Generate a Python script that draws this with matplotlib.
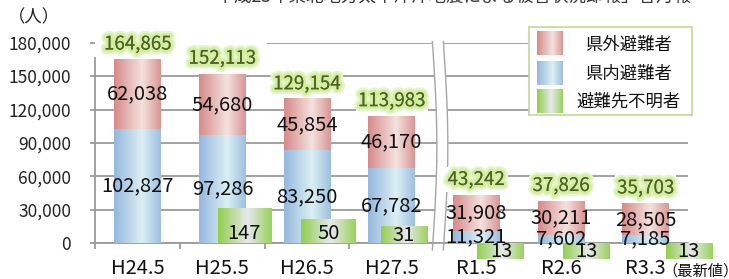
import numpy as np
import matplotlib
matplotlib.use("Agg")
import matplotlib.pyplot as plt
from matplotlib.colors import LinearSegmentedColormap
import matplotlib.patheffects as pe

plt.rcParams['font.family'] = ['Noto Sans CJK JP', 'DejaVu Sans']

# ---------------- data ----------------
categories = ["H24.5", "H25.5", "H26.5", "H27.5", "R1.5", "R2.6", "R3.3"]
latest_suffix = "（最新値）"
outside_pref = [62038, 54680, 45854, 46170, 31908, 30211, 28505]   # 県外避難者
inside_pref = [102827, 97286, 83250, 67782, 11321, 7602, 7185]     # 県内避難者
unknown = [None, 147, 50, 31, 13, 13, 13]                          # 避難先不明者
# height at which the (label-holder) green bars are drawn in the picture
unknown_drawn = [0, 30700, 20800, 14550, -14200, -14200, -14200]
totals = [164865, 152113, 129154, 113983, 43242, 37826, 35703]
series_names = ["県外避難者", "県内避難者", "避難先不明者"]
yticks = [0, 30000, 60000, 90000, 120000, 150000, 180000]
title = "「平成23年東北地方太平洋沖地震による被害状況即報」各月報"
unit = "（人）"

# ---------------- layout / style ----------------
W, H = 729, 279
bar_w = 0.555
green_offset = [0, 0.26, 0.25, 0.145, 0.29, 0.30, 0.51]
green_width = [0, 0.635, 0.64, 0.545, 0.555, 0.555, 0.55]
grid_col = "#9a9a9a"

cm_red = LinearSegmentedColormap.from_list("r", [(0, "#d68a89"), (0.6, "#f4e2df"), (1, "#d99594")])
cm_blue = LinearSegmentedColormap.from_list("b", [(0, "#95b7de"), (0.6, "#dcf0f4"), (1, "#9dbfe0")])
cm_green = LinearSegmentedColormap.from_list("g", [(0, "#90cf4c"), (0.55, "#e8e8ee"), (1, "#98d35a")])
grad = np.linspace(0, 1, 256).reshape(1, -1)

fig = plt.figure(figsize=(W / 100, H / 100), dpi=100)
ax = fig.add_axes([95.4 / W, 1 - 243.2 / H, (688 - 95.4) / W, (243.2 - 42.7) / H])

x = np.arange(len(categories))


def paint(container, cmap, z):
    for r in container:
        r.set_facecolor("none")
        r.set_edgecolor("none")
        x0, y0, w, h = r.get_x(), r.get_y(), r.get_width(), r.get_height()
        if w == 0 or h == 0:
            continue
        ax.imshow(grad, cmap=cmap, extent=[x0, x0 + w, y0, y0 + h], aspect="auto",
                  interpolation="bilinear", zorder=z, clip_on=False)


b_in = ax.bar(x, inside_pref, width=bar_w, zorder=3)
paint(b_in, cm_blue, 3)
b_out = ax.bar(x, outside_pref, width=bar_w, bottom=inside_pref, zorder=3)
paint(b_out, cm_red, 3)

gx = [x[i] + green_offset[i] for i in range(len(x))]
b_g = ax.bar(gx, unknown_drawn, width=green_width, zorder=4)
paint(b_g, cm_green, 4)

# labels
for i in range(len(x)):
    ax.text(x[i], inside_pref[i] / 2, f"{inside_pref[i]:,}", ha="center", va="center",
            fontsize=14.5, color="#111111", zorder=6)
    ax.text(x[i], inside_pref[i] + outside_pref[i] / 2, f"{outside_pref[i]:,}", ha="center",
            va="center", fontsize=14.5, color="#111111", zorder=6)
    if unknown[i] is not None:
        h = unknown_drawn[i]
        yl = min(h / 2, 8500) if h > 0 else h / 2
        ax.text(gx[i], yl, f"{unknown[i]:,}", ha="center", va="center", fontsize=14.5,
                color="#111111", zorder=6, clip_on=False)
    ax.annotate(f"{totals[i]:,}", (x[i], totals[i]), xytext=(0, 11.2), textcoords="offset points",
                ha="center", va="center", fontsize=13.5, color="#4f6228", zorder=7,
                bbox=dict(boxstyle="square,pad=0.12", fc="white", ec="none"),
                path_effects=[pe.withStroke(linewidth=7, foreground="#e6f5cc"),
                              pe.withStroke(linewidth=4, foreground="#d3ee9f"), pe.Normal()])

# axes styling
ax.set_xlim(-0.5, len(x) - 0.5)
ax.set_ylim(0, 180000)
ax.set_yticks(yticks)
ax.set_yticklabels([f"{v:,}" for v in yticks], fontsize=12.5, color="#222222")
ax.set_xticks(x)
ax.set_xticklabels(categories, fontsize=14.5, color="#111111")
ax.set_xticks(np.arange(-0.5, len(x)), minor=True)
ax.tick_params(axis="x", which="major", length=0, pad=11)
ax.tick_params(axis="x", which="minor", length=4.3, width=1.3, color=grid_col)
ax.tick_params(axis="y", length=3.6, width=1.3, color=grid_col, pad=14)
for s in ["top", "right"]:
    ax.spines[s].set_visible(False)
ax.spines["left"].set_color(grid_col)
ax.spines["left"].set_linewidth(1.3)
ax.spines["left"].set_bounds(0, 166300)
ax.spines["bottom"].set_color(grid_col)
ax.spines["bottom"].set_linewidth(1.3)
ax.yaxis.grid(True, color=grid_col, linewidth=1.3, zorder=1)
ax.set_axisbelow(True)
ax.get_ygridlines()[-1].set_visible(False)
ax.hlines(180000, 1.53, len(x) - 0.5, color=grid_col, linewidth=1.3, zorder=1)
ax.set_facecolor("white")

# axis break
t = np.linspace(0, 1, 100)
yb = -6000 + t * 187000
xl = 3.48 + 0.053 * np.sin(np.pi * t)
xr = xl + 0.13
ax.fill_betweenx(yb, xl, xr, color="white", zorder=2.5, clip_on=False, linewidth=0)
ax.plot(xl, yb, color="#a6a6a6", lw=1.0, zorder=2.6, clip_on=False)
ax.plot(xr, yb, color="#a6a6a6", lw=1.0, zorder=2.6, clip_on=False)

# texts
fig.text(662 / W, 1 - 271 / H, latest_suffix, ha="left", va="center", fontsize=11, color="#111111")
fig.text(8 / W, 1 - 17 / H, unit, ha="left", va="center", fontsize=12.5, color="#222222")
fig.text(692 / W, 1 + 3 / H, title, ha="right", va="center", fontsize=12.6, color="#333333")

# legend (manual)
lg = fig.add_axes([529 / W, 1 - 115 / H, (692 - 529) / W, (115 - 27) / H], zorder=10)
lg.set_xlim(0, 163)
lg.set_ylim(88, 0)
lg.set_xticks([])
lg.set_yticks([])
for s in lg.spines.values():
    s.set_color("#c4d79b")
    s.set_linewidth(1.2)
rows = [(4.7, 28), (34, 58), (62, 85.7)]
for (y0, y1), cmap, name in zip(rows, [cm_red, cm_blue, cm_green], series_names):
    lg.imshow(grad, cmap=cmap, extent=[7.7, 33.3, y1, y0], aspect="auto", interpolation="bilinear")
    lg.text(100, (y0 + y1) / 2 + 1, name, ha="center", va="center", fontsize=12.5, color="#111111")
lg.set_xlim(0, 163)
lg.set_ylim(88, 0)

fig.savefig("out.png", dpi=100)
